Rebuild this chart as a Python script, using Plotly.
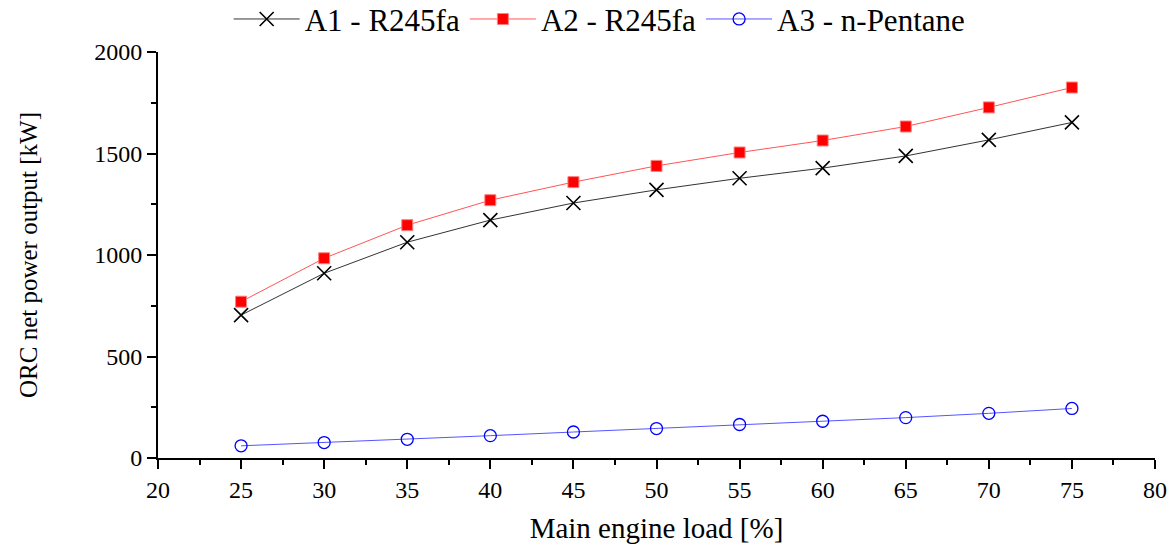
import plotly.graph_objects as go

load = [25, 30, 35, 40, 45, 50, 55, 60, 65, 70, 75]
a1_r245fa = [704, 910, 1063, 1172, 1256, 1321, 1378, 1428, 1488, 1567, 1653]
a2_r245fa = [770, 984, 1147, 1270, 1359, 1439, 1505, 1564, 1633, 1727, 1825]
a3_pentane = [60, 76, 92, 110, 128, 145, 165, 181, 199, 220, 244]

FONT = "Times New Roman, Liberation Serif, serif"

fig = go.Figure()
fig.add_trace(go.Scatter(
    x=load, y=a1_r245fa, name="A1 - R245fa", mode="lines+markers",
    line=dict(color="#333333", width=1),
    marker=dict(symbol="x-thin", size=14, color="black",
                line=dict(color="black", width=1.6))))
fig.add_trace(go.Scatter(
    x=load, y=a2_r245fa, name="A2 - R245fa", mode="lines+markers",
    line=dict(color="#ff5555", width=1),
    marker=dict(symbol="square", size=11, color="red",
                line=dict(color="#ff8080", width=1))))
fig.add_trace(go.Scatter(
    x=load, y=a3_pentane, name="A3 - n-Pentane", mode="lines+markers",
    line=dict(color="#5555ff", width=1),
    marker=dict(symbol="circle-open", size=12, color="blue",
                line=dict(color="blue", width=1.3))))

fig.update_layout(
    width=1172, height=552,
    margin=dict(l=158, r=17, t=52, b=94),
    paper_bgcolor="white", plot_bgcolor="white",
    font=dict(family=FONT, size=24, color="black"),
    legend=dict(orientation="h", x=0.443, xanchor="center",
                yref="container", y=0.965, yanchor="middle",
                font=dict(family=FONT, size=31),
                itemwidth=66, tracegroupgap=0, bgcolor="rgba(0,0,0,0)"),
    showlegend=True,
)
fig.update_xaxes(
    range=[20, 80], tick0=20, dtick=5, automargin=False,
    showgrid=False, zeroline=False,
    showline=True, linecolor="black", linewidth=2,
    ticks="outside", ticklen=9, tickwidth=2, tickcolor="black",
    minor=dict(ticks="outside", ticklen=5, tickwidth=2, tickcolor="black", dtick=2.5),
    tickfont=dict(family=FONT, size=24),
    title=dict(text="Main engine load [%]", font=dict(family=FONT, size=29), standoff=16),
)
fig.update_yaxes(
    range=[0, 2000], tick0=0, dtick=500, automargin=False,
    showgrid=False, zeroline=False,
    showline=True, linecolor="black", linewidth=2,
    ticks="outside", ticklen=9, tickwidth=2, tickcolor="black",
    minor=dict(ticks="outside", ticklen=5, tickwidth=2, tickcolor="black", dtick=250),
    tickfont=dict(family=FONT, size=24),
    title=dict(text="ORC net power output [kW]", font=dict(family=FONT, size=25), standoff=49),
)

fig.write_html("out.html", config={"displayModeBar": False},
               post_script="document.body.style.margin='0px';")
